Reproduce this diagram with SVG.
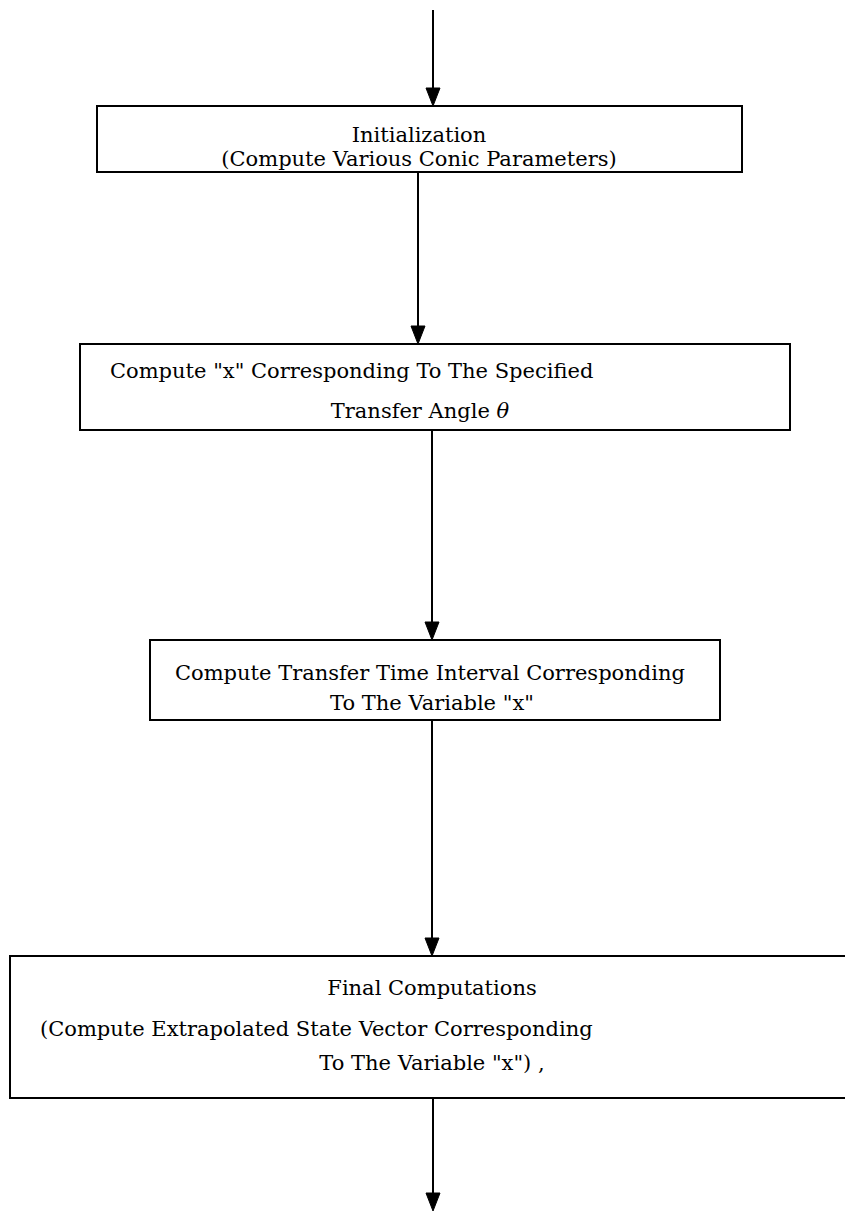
<svg xmlns="http://www.w3.org/2000/svg" width="845" height="1215" viewBox="0 0 845 1215">
<style>
.box{fill:#fff;stroke:#000;stroke-width:2}
.t{font-family:"DejaVu Serif","Liberation Serif",serif;font-size:21px;fill:#000}
.c{stroke:#000;stroke-width:2;fill:none}
.ah{fill:#000;stroke:#000;stroke-width:1}
</style>
<rect width="845" height="1215" fill="#fff"/>
<g id="connectors">
<line class="c" x1="433" y1="10" x2="433" y2="90"/>
<polygon class="ah" points="426,88 440,88 433,106"/>
<line class="c" x1="418" y1="172" x2="418" y2="328"/>
<polygon class="ah" points="411,326 425,326 418,344"/>
<line class="c" x1="432" y1="430" x2="432" y2="624"/>
<polygon class="ah" points="425,622 439,622 432,640"/>
<line class="c" x1="432" y1="720" x2="432" y2="940"/>
<polygon class="ah" points="425,938 439,938 432,956"/>
<line class="c" x1="433" y1="1098" x2="433" y2="1195"/>
<polygon class="ah" points="426,1193 440,1193 433,1211"/>
</g>
<g id="n1">
<rect class="box" x="97" y="106" width="645" height="66"/>
<text class="t" x="419" y="142" text-anchor="middle">Initialization</text>
<text class="t" x="419" y="166" text-anchor="middle">(Compute Various Conic Parameters)</text>
</g>
<g id="n2">
<rect class="box" x="80" y="344" width="710" height="86"/>
<text class="t" x="110" y="378">Compute "x" Corresponding To The Specified</text>
<text class="t" x="420" y="418" text-anchor="middle">Transfer Angle <tspan font-style="italic">θ</tspan></text>
</g>
<g id="n3">
<rect class="box" x="150" y="640" width="570" height="80"/>
<text class="t" x="175" y="680">Compute Transfer Time Interval Corresponding</text>
<text class="t" x="432" y="710" text-anchor="middle">To The Variable "x"</text>
</g>
<g id="n4">
<rect class="box" x="10" y="956" width="845" height="142"/>
<text class="t" x="432" y="995" text-anchor="middle">Final Computations</text>
<text class="t" x="40" y="1036">(Compute Extrapolated State Vector Corresponding</text>
<text class="t" x="432" y="1070" text-anchor="middle">To The Variable "x") ,</text>
</g>
</svg>
